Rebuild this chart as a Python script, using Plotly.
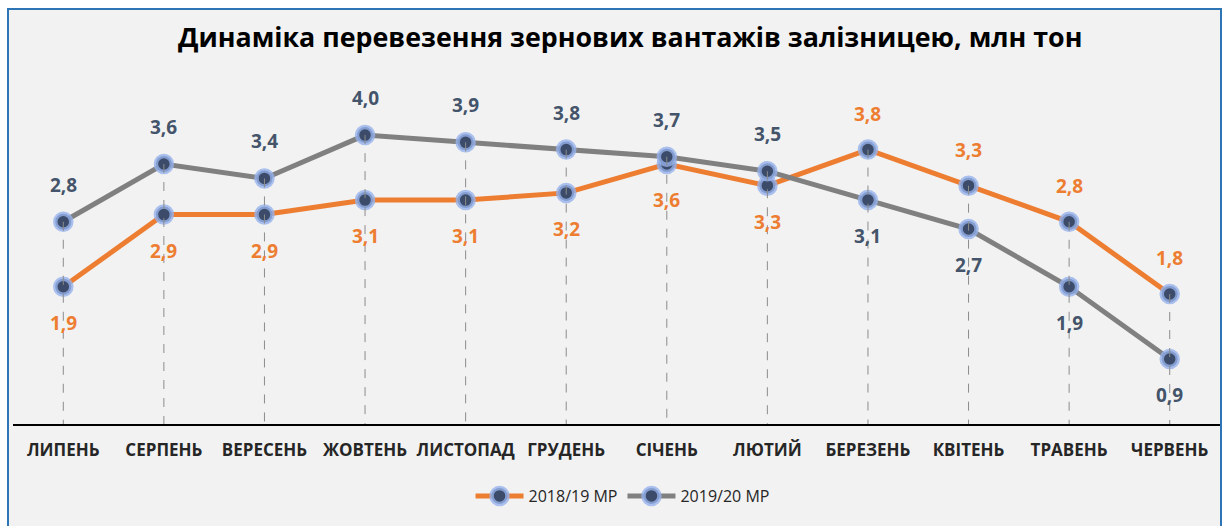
import plotly.graph_objects as go

months = ["ЛИПЕНЬ", "СЕРПЕНЬ", "ВЕРЕСЕНЬ", "ЖОВТЕНЬ", "ЛИСТОПАД", "ГРУДЕНЬ",
          "СІЧЕНЬ", "ЛЮТИЙ", "БЕРЕЗЕНЬ", "КВІТЕНЬ", "ТРАВЕНЬ", "ЧЕРВЕНЬ"]
s1819 = [1.9, 2.9, 2.9, 3.1, 3.1, 3.2, 3.6, 3.3, 3.8, 3.3, 2.8, 1.8]
s1920 = [2.8, 3.6, 3.4, 4.0, 3.9, 3.8, 3.7, 3.5, 3.1, 2.7, 1.9, 0.9]
name1819 = "2018/19 МР"
name1920 = "2019/20 МР"
title = "Динаміка перевезення зернових вантажів залізницею, млн тон"

ORANGE = "#ed7d31"
GRAY = "#808080"
LABEL_GRAY = "#44546a"
FONT = "Open Sans"

fig = go.Figure()

marker = dict(size=16, color="#3b4b69", symbol="circle",
              line=dict(width=4.5, color="rgba(150,178,235,0.8)"))

fig.add_trace(go.Scatter(x=months, y=s1819, mode="lines+markers", name=name1819,
                         line=dict(color=ORANGE, width=5), marker=marker))
fig.add_trace(go.Scatter(x=months, y=s1920, mode="lines+markers", name=name1920,
                         line=dict(color=GRAY, width=5), marker=marker))

# drop lines from highest point to axis
dx, dy = [], []
for m, a, b in zip(months, s1819, s1920):
    dx += [m, m, None]
    dy += [max(a, b), 0, None]
fig.add_trace(go.Scatter(x=dx, y=dy, mode="lines", showlegend=False, hoverinfo="skip",
                         line=dict(color="#8c8c8c", width=1, dash="dash")))

def fmt(v):
    return f"{v:.1f}".replace(".", ",")

annotations = []
for m, a, b in zip(months, s1819, s1920):
    above_a = a > b
    annotations.append(dict(x=m, y=a, text=fmt(a), showarrow=False,
                            yshift=36 if above_a else -36,
                            font=dict(family=FONT, size=19, color=ORANGE, weight="bold")))
    annotations.append(dict(x=m, y=b, text=fmt(b), showarrow=False,
                            yshift=-36 if above_a else 37,
                            font=dict(family=FONT, size=19, color=LABEL_GRAY, weight="bold")))

annotations.append(dict(xref="paper", yref="paper", x=0.511, y=(424 - 36) / 325,
                        xanchor="center", yanchor="middle",
                        text="<b>" + title + "</b>", showarrow=False,
                        font=dict(family=FONT, size=26.8, color="#000000")))
fig.update_layout(annotations=annotations)

W, H = 1223, 526
L, R, T, B = 13, 3, 99, 102
pw, ph = W - L - R, H - T - B

fig.add_shape(type="rect", xref="paper", yref="paper", layer="below",
              x0=(8 - L) / pw, x1=(1221 - L) / pw,
              y0=(ph - (545 - T)) / ph,
              y1=(ph - (9 - T)) / ph,
              fillcolor="#f2f2f2", line=dict(color="#2e75b6", width=2))

fig.update_layout(
    width=W, height=H,
    margin=dict(l=L, r=R, t=T, b=B),
    paper_bgcolor="white",
    plot_bgcolor="rgba(0,0,0,0)",
    showlegend=True,
    legend=dict(orientation="h", x=0.505, xanchor="center", y=(424 - 496) / 325,
                yanchor="middle", bgcolor="rgba(0,0,0,0)", itemwidth=48,
                font=dict(family=FONT, size=16, color="#262626")),
    xaxis=dict(range=[-0.5, 11.5], showgrid=False, showline=True, linecolor="#000000",
               linewidth=2, ticks="", zeroline=False, ticklabelstandoff=10,
               tickfont=dict(family=FONT, size=17, color="#262626", weight="bold")),
    yaxis=dict(range=[0, 4.5], showgrid=False, visible=False, zeroline=False),
)

fig.write_html("out.html")
